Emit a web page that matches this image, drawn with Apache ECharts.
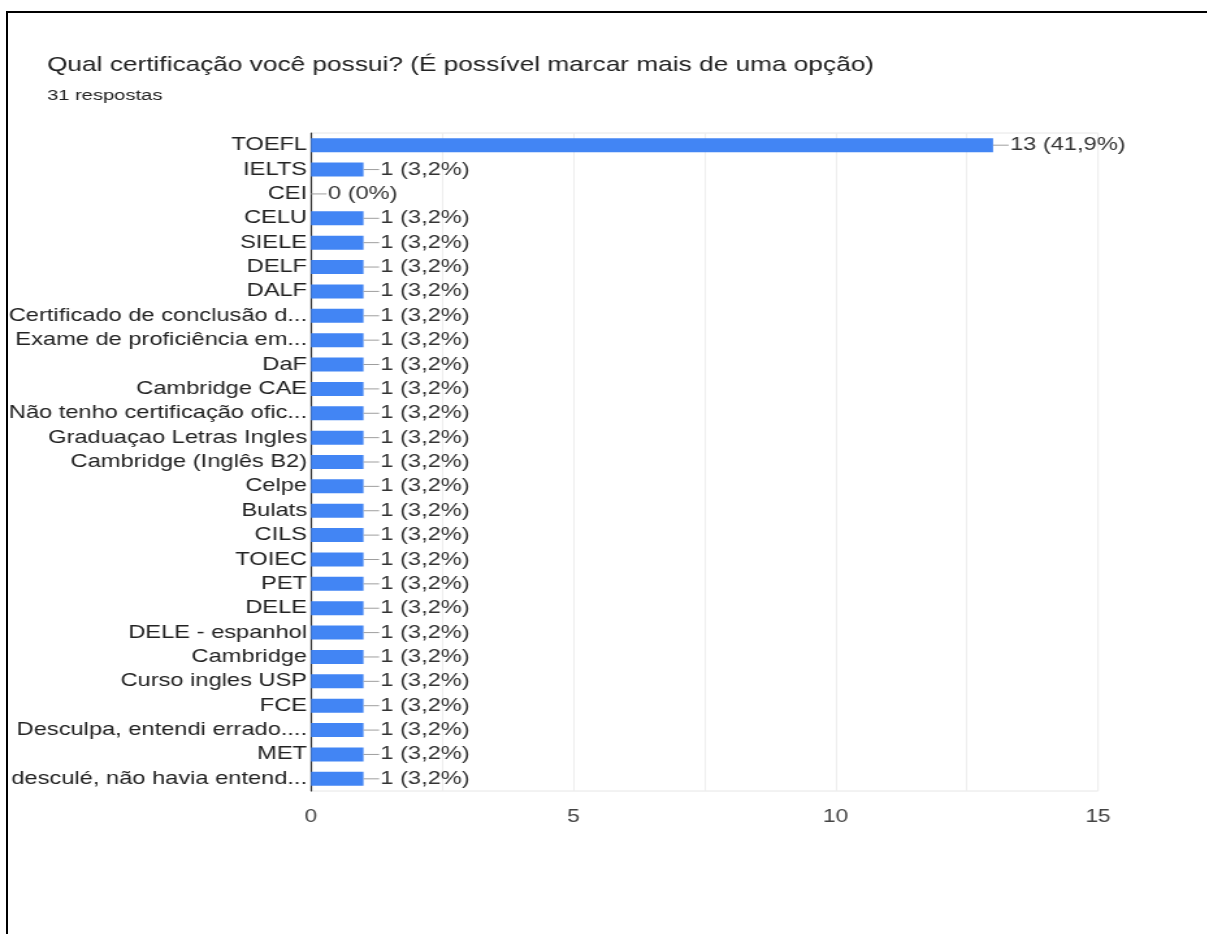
<!DOCTYPE html>
<html><head><meta charset="utf-8">
<script src="https://cdn.jsdelivr.net/npm/echarts@6/dist/echarts.min.js"></script>
<style>
html,body{margin:0;padding:0;background:#fff;overflow:hidden;width:1207px;height:934px}
#wrap{position:relative;width:1207px;height:934px;overflow:hidden;background:#fff}
#c{position:absolute;left:0;top:0;width:929px;height:934px;transform:scaleX(1.3);transform-origin:0 0}
#bt{position:absolute;left:6px;top:11px;width:1220px;height:2px;background:#000}
#bl{position:absolute;left:6px;top:11px;width:2px;height:930px;background:#000}
</style>
</head><body><div id="wrap"><div id="c"></div><div id="bt"></div><div id="bl"></div></div>
<script>
const categories = ['TOEFL','IELTS','CEI','CELU','SIELE','DELF','DALF','Certificado de conclusão d...','Exame de proficiência em...','DaF','Cambridge CAE','Não tenho certificação ofic...','Graduaçao Letras Ingles','Cambridge (Inglês B2)','Celpe','Bulats','CILS','TOIEC','PET','DELE','DELE - espanhol','Cambridge','Curso ingles USP','FCE','Desculpa, entendi errado....','MET','desculé, não havia entend...'];
const counts = [13,1,0,1,1,1,1,1,1,1,1,1,1,1,1,1,1,1,1,1,1,1,1,1,1,1,1];
const percents = ['41,9%','3,2%','0%','3,2%','3,2%','3,2%','3,2%','3,2%','3,2%','3,2%','3,2%','3,2%','3,2%','3,2%','3,2%','3,2%','3,2%','3,2%','3,2%','3,2%','3,2%','3,2%','3,2%','3,2%','3,2%','3,2%','3,2%'];
const xTicks = [0,5,10,15];
const titleText = 'Qual certificação você possui? (É possível marcar mais de uma opção)';
const subText = '31 respostas';

const S = 1.3; // horizontal stretch of the picture
const CW = 929;
const font = 'Liberation Sans, Arial, sans-serif';
const chart = echarts.init(document.getElementById('c'), null, {renderer:'canvas'});
chart.setOption({
  animation:false,
  backgroundColor:'#fff',
  title:[
    {text:titleText,left:47/S-5,top:50,textStyle:{fontFamily:font,fontSize:20.2,fontWeight:'normal',color:'#212121'}},
    {text:subText,left:47/S-5,top:83,textStyle:{fontFamily:font,fontSize:15.5,fontWeight:'normal',color:'#212121'}}
  ],
  grid:{left:311/S,right:CW-1098/S,top:133,bottom:143,show:true,borderColor:'#e6e6e6',borderWidth:1},
  xAxis:{type:'value',min:0,max:15,interval:2.5,
    axisLine:{show:false},axisTick:{show:false},
    splitLine:{show:true,lineStyle:{color:'#eeeeee',width:1}},
    axisLabel:{margin:17,fontFamily:font,fontSize:17.5,color:'#444',
      formatter:v=>xTicks.indexOf(v)>=0?String(v):''}},
  yAxis:{type:'category',data:categories,inverse:true,
    axisLine:{show:true,lineStyle:{color:'#333',width:1.2}},
    axisTick:{show:false},
    axisLabel:{margin:3,fontFamily:font,fontSize:18.2,color:'#222'}},
  series:[{type:'bar',data:counts,barWidth:14,
    itemStyle:{color:'#4285f4'},
    label:{show:true,position:'right',distance:0,
      formatter:p=>'{l|}{t|'+counts[p.dataIndex]+' ('+percents[p.dataIndex]+')}',
      rich:{
        l:{width:12,height:1,backgroundColor:'#9e9e9e',verticalAlign:'middle'},
        t:{fontFamily:font,fontSize:18.2,color:'#333',padding:[0,0,0,1],verticalAlign:'middle'}
      }}
  }]
});
</script></body></html>
